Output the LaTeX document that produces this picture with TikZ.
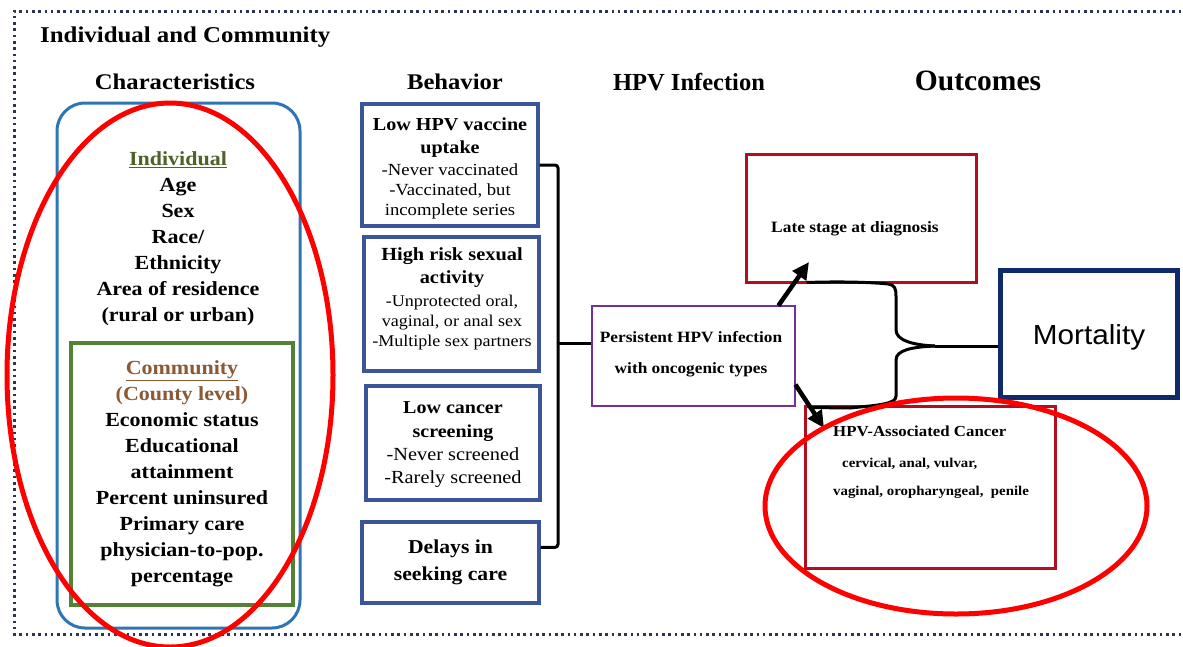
\documentclass[tikz,border=0pt]{standalone}
\usepackage{fontspec}
\setmainfont{Liberation Serif}[FakeStretch=1.1]
\newfontfamily\narrowserif{Liberation Serif}
\newfontfamily\mortfont{Liberation Sans}[FakeStretch=1.08]
\usetikzlibrary{arrows.meta,calc,shapes.geometric}

\definecolor{framegray}{HTML}{2B3550}
\definecolor{charblue}{HTML}{2E75B6}
\definecolor{commgreen}{HTML}{548235}
\definecolor{indivgreen}{HTML}{4F6228}
\definecolor{commbrown}{HTML}{8B5A34}
\definecolor{behavblue}{HTML}{3A5699}
\definecolor{infpurple}{HTML}{7030A0}
\definecolor{outred}{HTML}{B0101E}
\definecolor{mortnavy}{HTML}{0E2A6B}
\definecolor{markred}{HTML}{FF0000}

\newcommand\fz[2]{\fontsize{#1}{#2}\selectfont}

\begin{document}
\begin{tikzpicture}[x=1pt,y=-1pt,
  heading/.style={inner sep=0, font=\bfseries},
  txt/.style={inner sep=0, align=center},
  plainbox/.style={draw, rectangle, inner sep=0},
  behavbox/.style={plainbox, draw=behavblue, line width=3.2pt},
  outbox/.style={plainbox, draw=outred, line width=3pt},
  brace/.style={line width=3pt, black},
  effect/.style={line width=4.5pt, black, -{Triangle[length=17pt,width=16pt]}},
  highlight/.style={draw=markred, line width=5pt}
]
\useasboundingbox (0,0) rectangle (1183,646);
\fill[white] (0,0) rectangle (1183,646);

% dotted outer frame (right side runs off the page)
\draw[framegray, line width=3pt, dash pattern=on 2.6pt off 3.7pt] (1200,11) -- (14,11) -- (14,634) -- (1200,634);

% column headings
\node[heading, anchor=west, font=\bfseries\fz{22.6}{26}] (hdrA) at (40,37) {Individual and Community};
\node[heading, font=\bfseries\fz{22.4}{26}] (hdrB) at (175,82) {Characteristics};
\node[heading, font=\bfseries\fz{22.4}{26}] (hdrC) at (455,82) {Behavior};
\node[heading, font=\narrowserif\bfseries\fz{24.5}{28}] (hdrD) at (689,82) {HPV Infection};
\node[heading, font=\narrowserif\bfseries\fz{29.5}{32}] (hdrE) at (978,81) {Outcomes};

% characteristics column
\node[plainbox, draw=charblue, line width=3pt, rounded corners=28pt,
      minimum width=243, minimum height=525] (chars) at (178.5,365.5) {};
\node[txt, font=\bfseries\fz{20}{26}] (indiv) at (178,239)
  {\textcolor{indivgreen}{\underline{Individual}}\\Age\\Sex\\Race/\\Ethnicity\\Area of residence\\(rural or urban)};
\node[plainbox, draw=commgreen, line width=3.8pt, minimum width=222, minimum height=262,
      txt, font=\bfseries\fz{20}{26}] (comm) at (182,474)
  {\textcolor{commbrown}{\underline{Community}}\\\textcolor{commbrown}{(County level)}\\Economic status\\Educational\\attainment\\Percent uninsured\\Primary care\\physician-to-pop.\\percentage};

% behaviour column
\node[behavbox, minimum width=176, minimum height=122] (b1) at (450,165) {};
\node[txt, font=\fz{17}{20}] (b1t) at (450,168.5)
  {\textbf{\fz{18.3}{20}Low HPV vaccine}\\[3pt]\textbf{\fz{18.3}{20}uptake}\\[2pt]-Never vaccinated\\-Vaccinated, but\\incomplete series};
\node[behavbox, minimum width=175, minimum height=134] (b2) at (451.5,304) {};
\node[txt, font=\fz{16.4}{20}] (b2t) at (452,298.5)
  {\textbf{\fz{18.5}{20}High risk sexual}\\[3pt]\textbf{\fz{18.5}{20}activity}\\[3pt]-Unprotected oral,\\vaginal, or anal sex\\-Multiple sex partners};
\node[behavbox, minimum width=174, minimum height=114] (b3) at (453,443) {};
\node[txt, font=\fz{18.5}{23}] (b3t) at (453,445)
  {\textbf{\fz{18.2}{23}Low cancer}\\[1pt]\textbf{\fz{18.2}{23}screening}\\-Never screened\\-Rarely screened};
\node[behavbox, minimum width=177, minimum height=81, txt, font=\bfseries\fz{19.7}{27}] (b4) at (450.5,562.5)
  {Delays in\\seeking care};

% HPV infection
\node[plainbox, draw=infpurple, line width=2.8pt, minimum width=203, minimum height=100] (pers) at (693.5,356) {};
\node[txt, font=\bfseries\fz{15.7}{31}] (perst) at (691,354) {Persistent HPV infection\\with oncogenic types};

% outcomes
\node[outbox, minimum width=230, minimum height=128] (late) at (861,218) {};
\node[txt, font=\bfseries\fz{15.8}{20}] (latet) at (855,229) {Late stage at diagnosis};
\node[outbox, minimum width=250, minimum height=162] (canc) at (930,487) {};
\node[inner sep=0, align=left, anchor=north west, font=\bfseries\fz{13.5}{28}] (canct) at (833,426)
  {\fz{15.3}{28}HPV-Associated Cancer\\[3pt]\hspace*{9pt}cervical, anal, vulvar,\\vaginal, oropharyngeal,~ penile};
\node[plainbox, draw=mortnavy, line width=5pt, minimum width=177, minimum height=127] (mort) at (1088.5,333.5) {};
\node[inner sep=0, font=\mortfont\fz{27.5}{30}] (mortt) at (1089,337) {Mortality};

% bracket gathering the behaviours
\coordinate (bm) at (558,343);
\coordinate (hookb) at ($(b4.north east)!0.32!(b4.south east)$);
\draw[brace, rounded corners=3pt] (b1.east) -| (bm) |- (hookb);
\draw[brace] (bm) -- (pers.west |- bm);

% infection leads to both outcomes
\coordinate (uptip) at (809,262);
\coordinate (dntip) at (824,428);
\draw[effect] ($(pers.north east)+(-18,1)$) -- (uptip);
\draw[effect] ($(pers.north east)+(-1,80)$) -- (dntip);

% brace joining the outcomes into mortality
\coordinate (cusp) at (935,346);
\draw[brace] ($(late.south west)+(62,-1)$) .. controls (850,281) and (880,283) .. (888,284)
  .. controls (895,285) and (896,289) .. (896,296) -- (896,330)
  .. controls (896,340) and (912,345) .. (cusp);
\draw[brace] (cusp) .. controls (912,347) and (896,350) .. (896,360) -- (896,396)
  .. controls (896,404) and (880,405) .. (850,408) -- ($(canc.north west)+(6,3)$);
\draw[brace] (cusp) -- (cusp -| mort.west);

% highlight rings
\node[highlight, ellipse, inner sep=0, minimum width=326, minimum height=544] (ringA) at (170,375) {};
\node[highlight, ellipse, inner sep=0, minimum width=382, minimum height=216] (ringB) at (956,506) {};
\end{tikzpicture}
\end{document}
